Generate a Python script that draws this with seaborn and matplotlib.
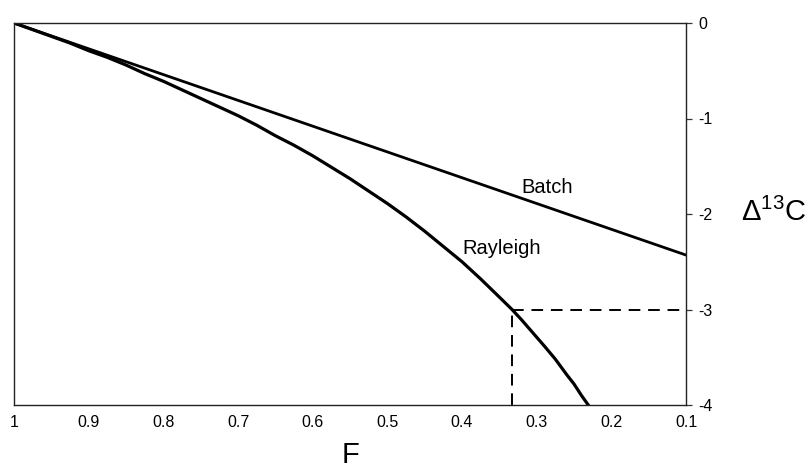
import matplotlib
matplotlib.use("Agg")
import matplotlib.pyplot as plt
import seaborn as sns
import pandas as pd

sns.set_theme(style="white")
plt.rcParams["font.family"] = ["Liberation Sans", "DejaVu Sans"]
plt.rcParams["mathtext.fontset"] = "custom"
plt.rcParams["mathtext.rm"] = "Liberation Sans"
plt.rcParams["mathtext.it"] = "Liberation Sans"

# Fraction of substrate remaining (F) and isotope discrimination values
rayleigh_F = [1.0, 0.975, 0.95, 0.925, 0.9, 0.875, 0.85, 0.825, 0.8, 0.775,
              0.75, 0.725, 0.7, 0.675, 0.65, 0.625, 0.6, 0.575, 0.55, 0.525,
              0.5, 0.475, 0.45, 0.425, 0.4, 0.375, 0.35, 0.333, 0.32, 0.3,
              0.29, 0.275, 0.26, 0.25, 0.24, 0.23, 0.225]
rayleigh_d13C = [0.0, -0.07, -0.14, -0.21, -0.29, -0.36, -0.44, -0.53, -0.61,
                 -0.70, -0.79, -0.88, -0.97, -1.07, -1.18, -1.28, -1.39, -1.51,
                 -1.63, -1.76, -1.89, -2.03, -2.18, -2.34, -2.50, -2.68, -2.87,
                 -3.0, -3.11, -3.29, -3.38, -3.52, -3.68, -3.78, -3.90, -4.01,
                 -4.07]

batch_F = [1.0, 0.1]
batch_d13C = [0.0, -2.43]

marker_F = 0.333
marker_d13C = -3.0

x_ticks = [1, 0.9, 0.8, 0.7, 0.6, 0.5, 0.4, 0.3, 0.2, 0.1]
x_tick_labels = ["1", "0.9", "0.8", "0.7", "0.6", "0.5", "0.4", "0.3", "0.2", "0.1"]
y_ticks = [0, -1, -2, -3, -4]
y_tick_labels = ["0", "-1", "-2", "-3", "-4"]

rayleigh = pd.DataFrame({"F": rayleigh_F, "d13C": rayleigh_d13C})
batch = pd.DataFrame({"F": batch_F, "d13C": batch_d13C})

fig = plt.figure(figsize=(8.08, 4.68), dpi=100)
ax = fig.add_axes([14 / 808, 1 - 405 / 468, (686 - 14) / 808, (405 - 23) / 468])

sns.lineplot(data=batch, x="F", y="d13C", ax=ax, color="black", linewidth=2.0,
             sort=False, estimator=None)
sns.lineplot(data=rayleigh, x="F", y="d13C", ax=ax, color="black", linewidth=2.3,
             sort=False, estimator=None)

# Dashed guide lines marking the point on the Rayleigh curve
ax.plot([marker_F, 0.1], [marker_d13C, marker_d13C], color="black",
        linewidth=1.4, dashes=(6, 4))
ax.plot([marker_F, marker_F], [-4, marker_d13C], color="black",
        linewidth=1.4, dashes=(6, 4))

ax.set_xlim(1, 0.1)
ax.set_ylim(-4, 0)

ax.set_xticks(x_ticks)
ax.set_xticklabels(x_tick_labels)
ax.set_yticks(y_ticks)
ax.set_yticklabels(y_tick_labels)

ax.yaxis.tick_right()
ax.tick_params(axis="both", direction="out", length=4, width=0.9, color="#333333",
               labelsize=11.5, labelcolor="black")
ax.tick_params(axis="x", pad=3)
ax.tick_params(axis="y", pad=5)

for side in ["top", "bottom", "left", "right"]:
    ax.spines[side].set_visible(True)
    ax.spines[side].set_color("#222222")
    ax.spines[side].set_linewidth(1.0)

ax.set_xlabel("F", fontsize=21, labelpad=8, color="black")
ax.set_ylabel("")
fig.text(774 / 808, 1 - 212 / 468, r"$\Delta^{13}$C", fontsize=21,
         ha="center", va="center", color="black")

ax.text(0.32, -1.78, "Batch", fontsize=14.5, ha="left", va="baseline", color="black")
ax.text(0.399, -2.42, "Rayleigh", fontsize=14.5, ha="left", va="baseline", color="black")

fig.savefig("out.png", dpi=100)
